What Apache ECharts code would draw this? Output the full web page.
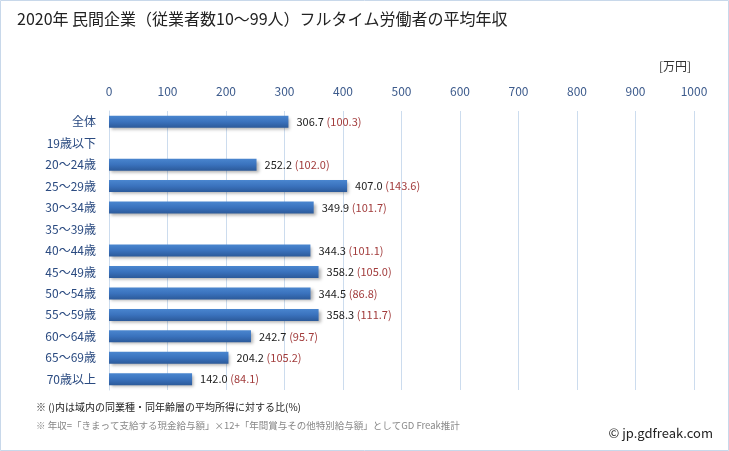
<!DOCTYPE html>
<html><head><meta charset="utf-8">
<script src="https://cdn.jsdelivr.net/npm/echarts@6/dist/echarts.min.js"></script>
<style>html,body{margin:0;padding:0;background:#fff}#c{width:729px;height:451px}</style>
</head><body><div id="c"></div>
<script>
const categories = ['全体','19歳以下','20～24歳','25～29歳','30～34歳','35～39歳','40～44歳','45～49歳','50～54歳','55～59歳','60～64歳','65～69歳','70歳以上'];
const values = [306.7, 0, 252.2, 407.0, 349.9, 0, 344.3, 358.2, 344.5, 358.3, 242.7, 204.2, 142.0];
const ratios = ['100.3', null, '102.0', '143.6', '101.7', null, '101.1', '105.0', '86.8', '111.7', '95.7', '105.2', '84.1'];
const xTicks = [0,100,200,300,400,500,600,700,800,900,1000];

const chart = echarts.init(document.getElementById('c'));
const font = '"Noto Sans CJK JP", "Noto Sans", sans-serif';
chart.setOption({
  backgroundColor: '#fff',
  animation: false,
  graphic: [
    {type:'rect', shape:{x:0.5,y:0.5,width:728,height:450}, style:{fill:'none', stroke:'#c8d8ea', lineWidth:1}},
    {type:'text', left:17, top:11, style:{text:'2020年 民間企業（従業者数10～99人）フルタイム労働者の平均年収', font:'16px '+font, fill:'#222'}},
    {type:'text', left:659, top:60, style:{text:'[万円]', font:'12px '+font, fill:'#333'}},
    {type:'text', left:36, top:402, style:{text:'※ ()内は域内の同業種・同年齢層の平均所得に対する比(%)', font:'10px '+font, fill:'#222'}},
    {type:'text', left:36, top:421, style:{text:'※ 年収=「きまって支給する現金給与額」×12+「年間賞与その他特別給与額」としてGD Freak推計', font:'9.5px '+font, fill:'#888'}},
    {type:'text', right:16, top:427, style:{text:'© jp.gdfreak.com', font:'13px '+font, fill:'#222'}}
  ],
  grid: {left:109, right:35, top:111, bottom:61},
  xAxis: {
    type:'value', position:'top', min:0, max:1000, interval:100,
    axisLine:{show:false}, axisTick:{show:false},
    splitLine:{lineStyle:{color:'#ccdcee', width:1}},
    axisLabel:{color:'#3d5b8c', fontSize:12, fontFamily:font, margin:14,
      formatter: v => xTicks.includes(v) ? String(v) : ''}
  },
  yAxis: {
    type:'category', data:categories, inverse:true,
    axisLine:{show:true, lineStyle:{color:'#ccdcee'}}, axisTick:{show:false},
    axisLabel:{color:'#2a4a80', fontSize:12, fontFamily:font, margin:13}
  },
  series: [{
    type:'bar', data: values.map((v,i)=> v>0 ? v : null), barWidth:12,
    itemStyle:{
      color: new echarts.graphic.LinearGradient(0,0,0,1,[{offset:0,color:'#4a86cf'},{offset:0.5,color:'#3a72bd'},{offset:1,color:'#2c5a9a'}]),
      shadowColor:'rgba(0,0,0,0.3)', shadowBlur:3, shadowOffsetX:2, shadowOffsetY:2
    },
    label:{
      show:true, position:'right', distance:8, fontFamily:font,
      formatter: p => ratios[p.dataIndex] ? '{v|'+values[p.dataIndex].toFixed(1)+'} {r|('+ratios[p.dataIndex]+')}' : '',
      rich:{ v:{color:'#222', fontSize:11, fontFamily:font}, r:{color:'#a23c3c', fontSize:11, fontFamily:font} }
    }
  }]
});
</script></body></html>
